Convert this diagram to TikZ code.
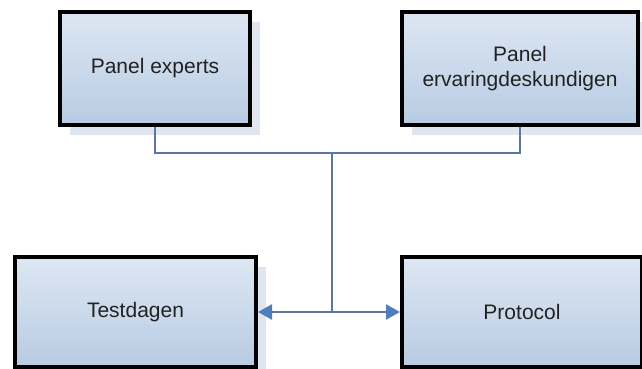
\documentclass[tikz,border=0pt]{standalone}
\usepackage{fontspec}
\setmainfont{Liberation Sans}
\usetikzlibrary{arrows.meta,shadows}
\definecolor{boxtop}{HTML}{DDE7F3}
\definecolor{boxbot}{HTML}{B8CBE3}
\definecolor{shade}{HTML}{DFE6F0}
\definecolor{wire}{HTML}{5A77A0}
\definecolor{tip}{HTML}{4F7EBD}
\definecolor{ink}{HTML}{222222}
\begin{document}
\begin{tikzpicture}[x=1pt,y=1pt,
  panel/.style={draw=black, line width=4pt, top color=boxtop, bottom color=boxbot,
    inner sep=0pt, align=center, text=ink, font=\fontsize{21}{25}\selectfont,
    general shadow={fill=shade, shadow xshift=10pt, shadow yshift=-10pt}},
  wireline/.style={draw=wire, line width=2.4pt},
  both/.style={wireline, {Triangle[length=14pt,width=15pt,color=tip]}-{Triangle[length=14pt,width=15pt,color=tip]}}]
  \useasboundingbox (0,0) rectangle (642,-369);
  \fill[white] (0,0) rectangle (642,-369);

  % upper row: the two panels
  \node[panel, minimum width=190pt, minimum height=113pt] (pe) at (155,-68.5) {Panel experts};
  \node[panel, minimum width=236pt, minimum height=113pt] (pv) at (520,-68.5) {Panel\\ervaringdeskundigen};

  % lower row
  \node[panel, minimum width=241pt, minimum height=110pt] (td) at (135.5,-312) {Testdagen};
  \node[panel, minimum width=240pt, minimum height=110pt] (pr) at (522,-312) {Protocol};

  % junction points of the connector tree
  \coordinate (j) at (332,-153);
  \coordinate (k) at (332,-312);

  \draw[wireline] (pe.south) |- (j) -| (pv.south);
  \draw[wireline] (j) -- (k);
  \draw[both] (td.east) -- (pr.west);
\end{tikzpicture}
\end{document}
